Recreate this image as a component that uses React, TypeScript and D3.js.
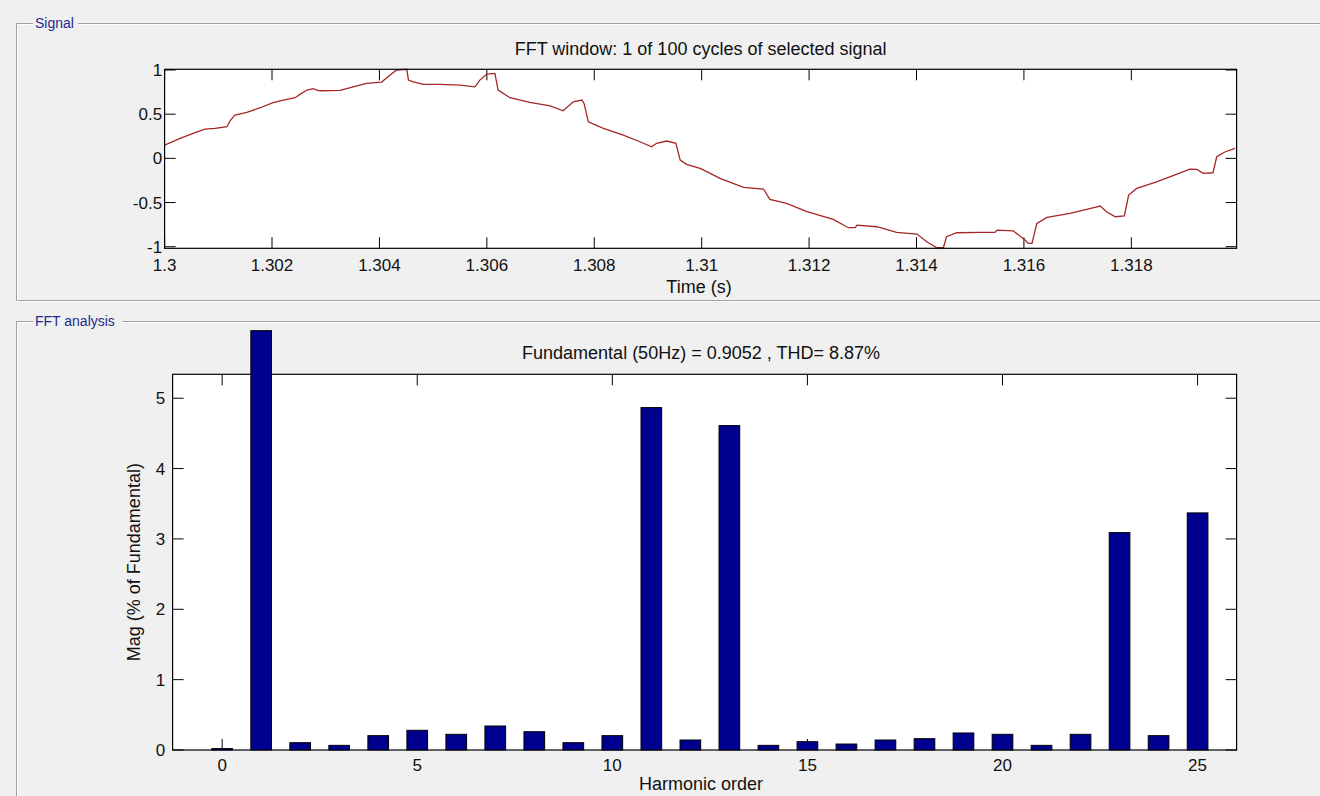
import React from "react";
import * as d3 from "d3";

// signal trace, one cycle
const signalTime = [
  1.3, 1.30029, 1.30053, 1.30075, 1.30094, 1.30116, 1.30123, 1.30131, 1.30153, 1.30178,
  1.30202, 1.30221, 1.30243, 1.30252, 1.30265, 1.30277, 1.30283, 1.30289, 1.30327, 1.30351,
  1.30376, 1.30404, 1.3042, 1.30432, 1.30451, 1.30454, 1.30463, 1.30482, 1.30513, 1.3055,
  1.30578, 1.30587, 1.306, 1.30615, 1.30621, 1.30643, 1.3068, 1.30718, 1.30742, 1.30761,
  1.30777, 1.30781, 1.30789, 1.30817, 1.30854, 1.30885, 1.30907, 1.30916, 1.30935, 1.30952,
  1.3096, 1.30972, 1.30997, 1.31016, 1.31034, 1.31078, 1.31115, 1.31127, 1.31158, 1.31196,
  1.31245, 1.31273, 1.31286, 1.31289, 1.31326, 1.31363, 1.31401, 1.31419, 1.31438, 1.3145,
  1.31456, 1.31475, 1.31518, 1.31546, 1.3155, 1.3158, 1.31602, 1.31608, 1.31615, 1.31624,
  1.31643, 1.31686, 1.31736, 1.31742, 1.31754, 1.3177, 1.31787, 1.31795, 1.3181, 1.31847,
  1.31885, 1.31909, 1.31922, 1.31934, 1.31952, 1.31959, 1.31975, 1.31993,
];
const signalValue = [
  0.15, 0.226, 0.283, 0.332, 0.34, 0.358, 0.434, 0.49, 0.52, 0.573,
  0.63, 0.66, 0.686, 0.724, 0.773, 0.788, 0.773, 0.765, 0.77, 0.81,
  0.849, 0.864, 0.943, 1.0, 1.008, 0.886, 0.867, 0.838, 0.838, 0.83,
  0.81, 0.886, 0.954, 0.962, 0.773, 0.686, 0.634, 0.595, 0.539, 0.64,
  0.66, 0.622, 0.414, 0.34, 0.264, 0.188, 0.131, 0.17, 0.196, 0.17,
  -0.019, -0.068, -0.113, -0.17, -0.226, -0.328, -0.347, -0.464, -0.509, -0.604,
  -0.69, -0.785, -0.785, -0.755, -0.774, -0.838, -0.857, -0.944, -1.012, -1.012,
  -0.887, -0.842, -0.838, -0.838, -0.812, -0.82, -0.925, -0.962, -0.962, -0.736,
  -0.668, -0.623, -0.548, -0.54, -0.604, -0.661, -0.65, -0.415, -0.34, -0.265,
  -0.178, -0.121, -0.125, -0.17, -0.163, 0.018, 0.075, 0.113,
];

const timeTicks = [1.3, 1.302, 1.304, 1.306, 1.308, 1.31, 1.312, 1.314, 1.316, 1.318];
const timeTickLabels = ["1.3", "1.302", "1.304", "1.306", "1.308", "1.31", "1.312", "1.314", "1.316", "1.318"];
const signalTicks = [-1, -0.5, 0, 0.5, 1];
const signalTickLabels = ["-1", "-0.5", "0", "0.5", "1"];

// harmonic spectrum (% of fundamental)
const harmonicOrder = [0, 1, 2, 3, 4, 5, 6, 7, 8, 9, 10, 11, 12, 13, 14, 15, 16, 17, 18, 19, 20, 21, 22, 23, 24, 25];
const harmonicMag = [
  0.02, 5.96, 0.104, 0.066, 0.204, 0.28, 0.223, 0.341, 0.26, 0.104,
  0.204, 4.867, 0.142, 4.611, 0.066, 0.118, 0.085, 0.142, 0.161, 0.242,
  0.223, 0.066, 0.223, 3.09, 0.204, 3.37,
];
const harmonicTicks = [0, 5, 10, 15, 20, 25];
const magTicks = [0, 1, 2, 3, 4, 5];

const W = 1320;
const H = 796;
const FONT = "'Liberation Sans', Arial, sans-serif";
const TICK = 11;

// axes boxes
const top = { left: 164.6, right: 1236.6, top: 69.3, bottom: 248.3 };
const bot = { left: 172.6, right: 1236.6, top: 374.3, bottom: 750 };

function Panel({ y, label, labelEnd, bottom }: { y: number; label: string; labelEnd: number; bottom?: number }) {
  const x = 16.5;
  const yb = bottom ?? H + 10;
  return (
    <g>
      <g stroke="#a0a0a0" strokeWidth={1} fill="none">
        <path d={`M33,${y}H${x}V${yb}`} />
        <path d={`M${labelEnd},${y}H${W}`} />
        {bottom !== undefined && <path d={`M${x},${bottom}H${W}`} />}
      </g>
      <g stroke="#ffffff" strokeWidth={1} fill="none">
        <path d={`M33,${y + 1}H${x + 1}V${yb}`} />
        <path d={`M${labelEnd},${y + 1}H${W}`} />
        {bottom !== undefined && <path d={`M${x},${bottom + 1}H${W}`} />}
      </g>
      <text x={35} y={y + 4.5} fontSize={14} fill="#1f2a8c" fontFamily={FONT}>
        {label}
      </text>
    </g>
  );
}

export default function App() {
  const xt = d3.scaleLinear().domain([1.3, 1.31996]).range([top.left, top.right]);
  const yt = d3.scaleLinear().domain([-1.018, 1.008]).range([top.bottom, top.top]);
  const line = d3
    .line<number>()
    .x((_, i) => xt(signalTime[i]))
    .y((d) => yt(d));

  const xb = d3.scaleLinear().domain([-1.27, 26.0]).range([bot.left, bot.right]);
  const yb = d3.scaleLinear().domain([0, 5.34]).range([bot.bottom, bot.top]);
  const barW = xb(0.53) - xb(0);

  return (
    <svg
      width={W}
      height={H}
      style={{ position: "absolute", left: 0, top: 0, background: "#f0f0f0" }}
      fontFamily={FONT}
    >
      <rect width={W} height={H} fill="#f0f0f0" />
      <Panel y={23.5} label="Signal" labelEnd={78} bottom={300.5} />
      <Panel y={321.5} label="FFT analysis" labelEnd={122} />

      {/* signal axes */}
      <rect x={top.left} y={top.top} width={top.right - top.left} height={top.bottom - top.top} fill="#fff" />
      <g stroke="#000" strokeWidth={1}>
        {timeTicks.map((t) => (
          <g key={t}>
            <line x1={xt(t)} x2={xt(t)} y1={top.bottom} y2={top.bottom - TICK} />
            <line x1={xt(t)} x2={xt(t)} y1={top.top} y2={top.top + TICK} />
          </g>
        ))}
        {signalTicks.map((v) => (
          <g key={v}>
            <line x1={top.left} x2={top.left + TICK} y1={yt(v)} y2={yt(v)} />
            <line x1={top.right} x2={top.right - TICK} y1={yt(v)} y2={yt(v)} />
          </g>
        ))}
      </g>
      <path d={line(signalValue) ?? ""} fill="none" stroke="#a52626" strokeWidth={1.3} />
      <rect
        x={top.left}
        y={top.top}
        width={top.right - top.left}
        height={top.bottom - top.top}
        fill="none"
        stroke="#000"
        strokeWidth={1.2}
      />
      <g fontSize={17} fill="#111">
        {timeTicks.map((t, i) => (
          <text key={t} x={xt(t)} y={271} textAnchor="middle">
            {timeTickLabels[i]}
          </text>
        ))}
        {signalTicks.map((v, i) => (
          <text key={v} x={top.left - 2.5} y={yt(v) + 6} textAnchor="end">
            {signalTickLabels[i]}
          </text>
        ))}
        <text x={(top.left + top.right) / 2} y={55} textAnchor="middle" fontSize={18}>
          FFT window: 1 of 100 cycles of selected signal
        </text>
        <text x={699} y={293} textAnchor="middle" fontSize={18}>
          Time (s)
        </text>
      </g>

      {/* spectrum axes */}
      <rect x={bot.left} y={bot.top} width={bot.right - bot.left} height={bot.bottom - bot.top} fill="#fff" />
      <g stroke="#000" strokeWidth={1}>
        {harmonicTicks.map((h) => (
          <g key={h}>
            <line x1={xb(h)} x2={xb(h)} y1={bot.bottom} y2={bot.bottom - TICK} />
            <line x1={xb(h)} x2={xb(h)} y1={bot.top} y2={bot.top + TICK} />
          </g>
        ))}
        {magTicks.map((v) => (
          <g key={v}>
            <line x1={bot.left} x2={bot.left + TICK} y1={yb(v)} y2={yb(v)} />
            <line x1={bot.right} x2={bot.right - TICK} y1={yb(v)} y2={yb(v)} />
          </g>
        ))}
      </g>
      <rect
        x={bot.left}
        y={bot.top}
        width={bot.right - bot.left}
        height={bot.bottom - bot.top}
        fill="none"
        stroke="#000"
        strokeWidth={1.2}
      />
      <g fill="#00008f" stroke="#000" strokeWidth={1}>
        {harmonicOrder.map((h, i) => (
          <rect
            key={h}
            x={xb(h) - barW / 2}
            y={yb(harmonicMag[i])}
            width={barW}
            height={yb(0) - yb(harmonicMag[i])}
          />
        ))}
      </g>
      <g fontSize={17} fill="#111">
        {harmonicTicks.map((h) => (
          <text key={h} x={xb(h)} y={771} textAnchor="middle">
            {h}
          </text>
        ))}
        {magTicks.map((v) => (
          <text key={v} x={bot.left - 7.5} y={yb(v) + 6} textAnchor="end">
            {v}
          </text>
        ))}
        <text x={701} y={359} textAnchor="middle" fontSize={18}>
          Fundamental (50Hz) = 0.9052 , THD= 8.87%
        </text>
        <text x={701} y={790} textAnchor="middle" fontSize={18}>
          Harmonic order
        </text>
        <text
          transform={`translate(140,${(bot.top + bot.bottom) / 2}) rotate(-90)`}
          textAnchor="middle"
          fontSize={18}
        >
          Mag (% of Fundamental)
        </text>
      </g>
    </svg>
  );
}
